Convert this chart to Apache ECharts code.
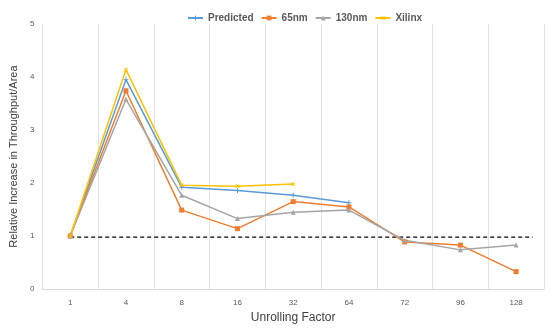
<!DOCTYPE html>
<html>
<head>
<meta charset="utf-8">
<script src="https://cdn.jsdelivr.net/npm/echarts@6/dist/echarts.min.js"></script>
<style>html,body{margin:0;padding:0;background:#fff}#c{width:550px;height:329px}</style>
</head>
<body>
<div id="c"></div>
<script>
var categories = ['1', '4', '8', '16', '32', '64', '72', '96', '128'];
var predicted = [1.0, 3.95, 1.92, 1.86, 1.77, 1.63, null, null, null];
var nm65 = [1.0, 3.74, 1.49, 1.14, 1.65, 1.55, 0.89, 0.83, 0.33];
var nm130 = [1.0, 3.58, 1.77, 1.33, 1.45, 1.49, 0.92, 0.74, 0.83];
var xilinx = [1.0, 4.14, 1.96, 1.94, 1.98, null, null, null, null];
var baselineValue = 0.98;
var baselineSpan = [0, 8.3];
var yTicks = [0, 1, 2, 3, 4, 5];

var plusPath = 'path://M4,0h2v4h4v2h-4v4h-2v-4h-4v-2h4z';
var font = 'Liberation Sans';
var chart = echarts.init(document.getElementById('c'));

function lineSeries(name, data, color, symbol, size, rotate) {
  return {
    name: name, type: 'line', data: data, xAxisIndex: 0,
    symbol: symbol, symbolSize: size, symbolRotate: rotate || 0,
    showAllSymbol: true, connectNulls: false,
    lineStyle: { color: color, width: 1.5 },
    itemStyle: { color: color },
    emphasis: { disabled: true }
  };
}

chart.setOption({
  animation: false,
  textStyle: { fontFamily: font },
  grid: { left: 40, right: 6, top: 24, bottom: 39 },
  legend: {
    data: ['Predicted', '65nm', '130nm', 'Xilinx'],
    top: 8, left: 182,
    itemWidth: 15, itemHeight: 6, itemGap: 7,
    textStyle: { color: '#595959', fontSize: 10, fontWeight: 'bold', fontFamily: font }
  },
  xAxis: [{
    type: 'category', data: categories, boundaryGap: true,
    name: 'Unrolling Factor', nameLocation: 'middle', nameGap: 22,
    nameTextStyle: { color: '#404040', fontSize: 12, fontFamily: font },
    axisLine: { lineStyle: { color: '#D9D9D9', width: 1 } },
    axisTick: { show: false },
    axisLabel: { color: '#595959', fontSize: 8, margin: 10, interval: 0 },
    splitLine: { show: true, interval: 0, lineStyle: { color: '#E3E3E3', width: 1 } }
  }, {
    type: 'value', min: -0.5, max: 8.5, show: false, position: 'bottom'
  }],
  yAxis: {
    type: 'value', min: 0, max: 5, interval: 1,
    name: 'Relative Increase in Throughput/Area', nameLocation: 'middle', nameGap: 22,
    nameTextStyle: { color: '#404040', fontSize: 11, fontFamily: font },
    axisLine: { show: false }, axisTick: { show: false },
    axisLabel: { color: '#595959', fontSize: 8, margin: 8,
      formatter: function (v) { return yTicks.indexOf(v) >= 0 ? String(v) : ''; } },
    splitLine: { show: false }
  },
  series: [
    {
      name: 'baseline', type: 'line', xAxisIndex: 1,
      data: [[baselineSpan[0], baselineValue], [baselineSpan[1], baselineValue]],
      symbol: 'none', lineStyle: { color: '#000', width: 1.3, type: [4, 3] },
      emphasis: { disabled: true }, silent: true
    },
    lineSeries('Predicted', predicted, '#5B9BD5', plusPath, 5),
    lineSeries('65nm', nm65, '#ED7D31', 'rect', 5),
    lineSeries('130nm', nm130, '#A5A5A5', 'triangle', 5),
    lineSeries('Xilinx', xilinx, '#FFC000', plusPath, 5, 45)
  ]
});
</script>
</body>
</html>
